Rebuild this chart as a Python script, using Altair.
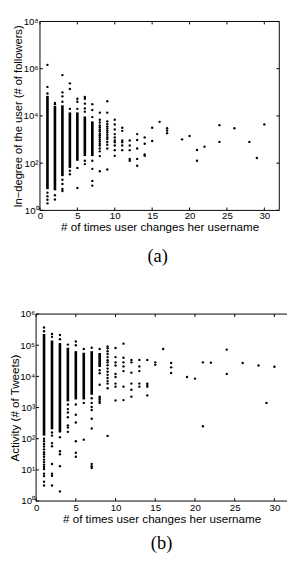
import altair as alt
import pandas as pd

FONT = "Liberation Sans"
SERIF = "Liberation Serif"
X_TITLE = "# of times user changes her username"

X_TICKS = [0, 5, 10, 15, 20, 25, 30]

# ---------- panel (a): in-degree (log10 exponents) ----------
A_YTICK_EXP = [0, 2, 4, 6, 8]
A_DENSE_X = [1, 2, 3, 4, 5, 6, 7]
A_DENSE_LO = [0.9, 0.85, 1.45, 1.8, 2.1, 2.3, 2.3]
A_DENSE_HI = [4.85, 4.42, 4.45, 4.15, 4.15, 3.98, 3.77]
A_PTS = {
    1: [6.16, 5.23, 4.95, 0.75, 0.6, 0.45, 0.3],
    2: [4.55, 4.5, 0.64, 0.46],
    3: [5.73, 5.0, 4.83, 4.6, 1.3, 1.12, 0.91, 0.82],
    4: [5.38, 5.14, 4.3, 1.68, 1.53],
    5: [4.73, 4.6, 4.3, 1.8, 0.95],
    6: [4.8, 4.73, 4.52, 4.32, 4.18, 2.1, 1.96],
    7: [4.5, 4.25, 3.95, 2.1, 1.76, 1.25, 1.05],
    8: [4.14, 3.84, 3.72, 3.6, 3.52, 3.43, 3.35, 3.25, 3.18, 3.1, 3.0, 2.92,
        2.82, 2.75, 2.62, 2.5, 2.3, 1.66],
    9: [4.62, 4.14, 3.77, 3.66, 3.55, 3.47, 3.38, 3.3, 3.2, 3.1, 3.02, 2.9,
        2.78, 2.62, 1.73],
    10: [3.84, 3.64, 3.43, 3.23, 3.09, 2.96, 2.89, 2.75, 2.55, 2.31],
    11: [3.5, 3.37, 2.96, 2.89, 2.75, 2.55],
    12: [2.96, 2.75, 2.55, 2.18, 2.1],
    13: [3.23, 2.98, 2.62, 2.18, 1.89],
    14: [3.09, 2.82, 2.37, 2.31],
    15: [3.5, 2.94],
    16: [3.75],
    17: [3.48, 3.38, 3.27],
    19: [3.01],
    20: [3.15],
    21: [2.56, 2.1],
    22: [2.7],
    24: [3.61, 2.9],
    26: [3.48],
    28: [2.9],
    29: [2.22],
    30: [3.64],
}

# ---------- panel (b): activity ----------
B_YTICK_EXP = [0, 1, 2, 3, 4, 5, 6]
B_DENSE_X = [1, 2, 3, 4, 5, 6, 7, 8]
B_DENSE_LO = [2.1, 2.3, 2.2, 3.2, 3.26, 3.26, 3.41, 4.3]
B_DENSE_HI = [5.36, 5.15, 5.07, 4.92, 4.81, 4.76, 4.81, 4.75]
B_PTS = {
    1: [5.57, 5.45, 2.0, 1.92, 1.83, 1.75, 1.66, 1.57, 1.5, 1.42, 1.33, 1.25,
        1.17, 1.1, 1.03, 0.88, 0.8, 0.62, 0.5],
    2: [5.36, 5.27, 2.2, 2.1, 1.86, 1.76, 1.19, 0.88, 0.81, 0.5],
    3: [5.33, 5.19, 2.05, 1.6, 1.5, 1.12, 0.31],
    4: [5.02, 3.1, 2.95, 2.84, 2.69, 2.43, 2.36, 2.22],
    5: [5.12, 5.0, 3.1, 2.77, 2.52, 1.92, 1.55, 1.42],
    6: [4.88, 3.15, 1.97],
    7: [4.92, 3.3, 3.15, 3.02, 2.92, 2.64, 2.33, 1.19, 1.12, 1.06],
    8: [4.88, 4.2, 4.1, 3.73, 3.35, 3.31, 3.26, 3.2, 3.15],
    9: [4.96, 4.9, 4.81, 4.72, 4.62, 4.52, 4.45, 4.36, 4.25, 4.15, 4.05, 3.95,
        3.85, 3.77, 3.62, 2.09],
    10: [4.91, 4.62, 4.45, 4.35, 4.08, 3.98, 3.77, 3.67, 3.23],
    11: [5.05, 4.6, 4.45, 4.32, 4.17, 3.67, 3.24],
    12: [4.53, 4.45, 4.12, 3.77, 3.57, 3.35],
    13: [4.53, 4.32, 4.17, 3.77, 3.67],
    14: [4.53, 3.77, 3.72, 3.67, 3.39],
    15: [4.45, 4.37],
    16: [4.88],
    17: [4.43, 4.29, 4.11],
    19: [3.98],
    20: [3.93],
    21: [4.45, 2.4],
    22: [4.44],
    24: [4.86, 4.08],
    26: [4.43],
    28: [4.35],
    29: [3.15],
    30: [4.31],
}

LABEL_EXPR = ("'10' + ['\u2070','\u00b9','\u00b2','\u00b3','\u2074','\u2075',"
              "'\u2076','\u2077','\u2078'][round(log(datum.value) / LN10)]")


def pts_frame(pts):
    rows = [{"x": x, "y": 10 ** e} for x, es in pts.items() for e in es]
    return pd.DataFrame(rows)


def dense_frame(xs, lo, hi):
    return pd.DataFrame({"x": xs, "y": [10 ** e for e in lo],
                         "y2": [10 ** e for e in hi]})


def panel(pts, dense, ytick_exp, ymax_exp, width, height, xmax, xr0,
          ytitle, ytitle_size, ytitle_x, yoffset, ylab_pad, xlab_pad,
          xtitle_pad, caption, cap_offset, right_spine):
    xs = alt.Scale(domain=[0, xmax], range=[xr0, width], nice=False, zero=False)
    ys = alt.Scale(type="log", domain=[1, 10 ** ymax_exp], nice=False)
    yvals = [10 ** e for e in ytick_exp]

    xaxis = alt.Axis(values=X_TICKS, title=X_TITLE, ticks=False, tickSize=0,
                     domain=False, grid=False, labelFont=FONT, labelFontSize=10,
                     labelColor="#000", labelPadding=xlab_pad, labelFlush=False,
                     titleFont=FONT, titleFontSize=12, titleFontWeight="normal",
                     titleColor="#000", titlePadding=xtitle_pad)
    yaxis = alt.Axis(values=yvals, labelExpr=LABEL_EXPR, title=ytitle,
                     ticks=False, tickSize=0, domain=False, grid=False,
                     offset=yoffset,
                     labelFont=FONT, labelFontSize=10, labelColor="#000",
                     labelPadding=ylab_pad, labelFlush=False,
                     titleFont=FONT, titleFontSize=ytitle_size,
                     titleFontWeight="normal", titleColor="#000",
                     titleAngle=270, titleAlign="center",
                     titleBaseline="alphabetic", titleX=ytitle_x,
                     titleY=height / 2)

    points = alt.Chart(pts_frame(pts)).mark_circle(
        size=6, color="#000", opacity=1).encode(
        x=alt.X("x:Q", scale=xs, axis=xaxis),
        y=alt.Y("y:Q", scale=ys, axis=yaxis),
    )
    dense_df = dense_frame(*dense)
    cols = alt.Chart(dense_df).mark_rule(
        color="#000", strokeWidth=2.7).encode(
        x=alt.X("x:Q", scale=xs), y=alt.Y("y:Q", scale=ys), y2="y2:Q")

    line = dict(color="#000", strokeWidth=1)
    dummy = pd.DataFrame({"x": [0]})
    spines = [
        alt.Chart(dummy).mark_rule(**line).encode(
            x=alt.datum(0), y=alt.value(0), y2=alt.value(height)),
        alt.Chart(dummy).mark_rule(**line).encode(
            x=alt.datum(0), x2=alt.datum(xmax), y=alt.value(0)),
        alt.Chart(dummy).mark_rule(**line).encode(
            x=alt.datum(0), x2=alt.datum(xmax), y=alt.value(height)),
    ]
    if right_spine:
        spines.append(alt.Chart(dummy).mark_rule(**line).encode(
            x=alt.datum(xmax), y=alt.value(0), y2=alt.value(height)))

    xt = pd.DataFrame({"x": X_TICKS})
    yt = pd.DataFrame({"y": yvals})
    tick = dict(color="#000", strokeWidth=1)
    ticks = [
        alt.Chart(xt).mark_rule(**tick).encode(
            x=alt.X("x:Q", scale=xs), y=alt.value(height), y2=alt.value(height - 3)),
        alt.Chart(xt).mark_rule(**tick).encode(
            x=alt.X("x:Q", scale=xs), y=alt.value(0), y2=alt.value(3)),
        alt.Chart(yt).mark_rule(x2Offset=3, **tick).encode(
            y=alt.Y("y:Q", scale=ys), x=alt.datum(0), x2=alt.datum(0)),
    ]
    if right_spine:
        ticks.append(alt.Chart(yt).mark_rule(x2Offset=-3, **tick).encode(
            y=alt.Y("y:Q", scale=ys), x=alt.datum(xmax), x2=alt.datum(xmax)))

    return alt.layer(points, cols, *spines, *ticks).properties(
        width=width, height=height,
        title=alt.TitleParams(caption, orient="bottom", anchor="middle",
                              font=SERIF, fontSize=19, fontWeight="normal",
                              color="#000", offset=cap_offset),
    )


top = panel(A_PTS, (A_DENSE_X, A_DENSE_LO, A_DENSE_HI), A_YTICK_EXP, 8,
            width=251, height=195, xmax=32, xr0=4,
            ytitle="In\u2212degree of the user (# of followers)", ytitle_size=11.5,
            ytitle_x=-19.5, yoffset=-4, ylab_pad=2, xlab_pad=0, xtitle_pad=2,
            caption="(a)", cap_offset=15, right_spine=True)

bottom = panel(B_PTS, (B_DENSE_X, B_DENSE_LO, B_DENSE_HI), B_YTICK_EXP, 6,
               width=259, height=193, xmax=31.59, xr0=0,
               ytitle="Activity (# of Tweets)", ytitle_size=12,
               ytitle_x=-18.5, yoffset=0, ylab_pad=1.5, xlab_pad=2, xtitle_pad=1,
               caption="(b)", cap_offset=11, right_spine=False)

chart = alt.vconcat(top, bottom, spacing=45).properties(
    padding={"left": 0, "top": 0, "right": 0, "bottom": 0}
).configure_view(stroke=None)

chart.save("out.html", embed_options={"renderer": "svg", "actions": False})
